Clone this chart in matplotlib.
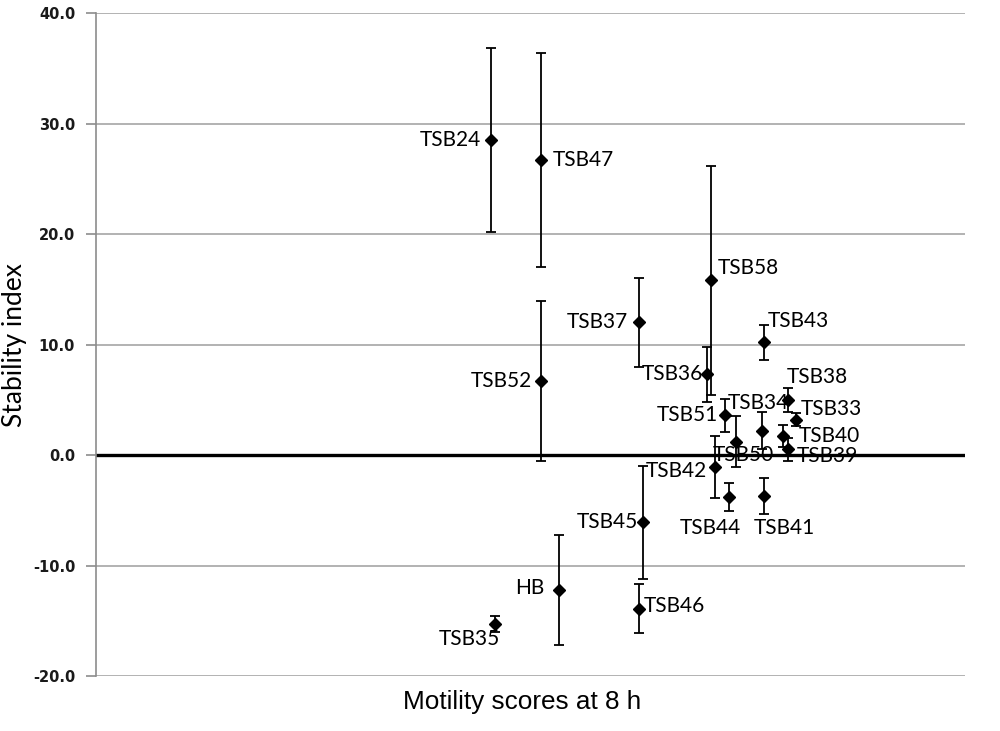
import matplotlib
matplotlib.use("Agg")
import matplotlib.pyplot as plt

# strains, motility score (x, arbitrary scale), stability index and its error
strains = ["TSB24", "TSB47", "TSB58", "TSB37", "TSB52", "TSB36", "TSB51", "TSB50",
           "TSB34", "TSB43", "TSB38", "TSB33", "TSB40", "TSB39", "TSB42", "TSB44",
           "TSB41", "TSB45", "HB", "TSB46", "TSB35"]
motility = [45.4, 51.2, 70.8, 62.5, 51.2, 70.3, 72.4, 73.6,
            76.6, 76.9, 79.6, 80.5, 79.1, 79.6, 71.2, 72.8,
            76.9, 62.9, 53.3, 62.5, 45.9]
stability = [28.5, 26.7, 15.8, 12.0, 6.7, 7.3, 3.6, 1.2,
             2.2, 10.2, 5.0, 3.2, 1.7, 0.5, -1.1, -3.8,
             -3.7, -6.1, -12.2, -13.9, -15.3]
stab_err = [8.3, 9.7, 10.4, 4.0, 7.2, 2.5, 1.5, 2.3,
            1.7, 1.6, 1.1, 0.6, 1.0, 1.0, 2.8, 1.3,
            1.6, 5.1, 5.0, 2.2, 0.7]

yticks = [-20, -10, 0, 10, 20, 30, 40]

# where each data label sits relative to its point (pixels, alignment)
label_pos = {
    "TSB24": (-10, 0, "right", "center"),
    "TSB47": (12, 0, "left", "center"),
    "TSB58": (6, 12, "left", "center"),
    "TSB37": (-11, 0, "right", "center"),
    "TSB52": (-9, 0, "right", "center"),
    "TSB36": (-4, 0, "right", "center"),
    "TSB51": (-7, 0, "right", "center"),
    "TSB50": (8, -13, "center", "center"),
    "TSB34": (-3, 28, "center", "center"),
    "TSB43": (3, 21, "left", "center"),
    "TSB38": (-1, 23, "left", "center"),
    "TSB33": (5, 11, "left", "center"),
    "TSB40": (15, 0, "left", "center"),
    "TSB39": (9, -7, "left", "center"),
    "TSB42": (-8, -4, "right", "center"),
    "TSB44": (-18, -31, "center", "center"),
    "TSB41": (20, -32, "center", "center"),
    "TSB45": (-5, 0, "right", "center"),
    "HB": (-15, 2, "right", "center"),
    "TSB46": (5, 3, "left", "center"),
    "TSB35": (-25, -15, "center", "center"),
}

fig = plt.figure(figsize=(10, 7.31), dpi=100)
ax = fig.add_axes([0.096, 0.0752, 0.869, 0.907])

ax.errorbar(motility, stability, yerr=stab_err, fmt="D", color="black",
            markersize=6.5, ecolor="black", elinewidth=1.3, capsize=3.5,
            capthick=1.3, zorder=3)

for name, x, y in zip(strains, motility, stability):
    dx, dy, ha, va = label_pos[name]
    ax.annotate(name, (x, y), xytext=(dx, dy), textcoords="offset pixels",
                ha=ha, va=va, fontsize=15, family="Lato", color="black",
                zorder=4)

ax.set_xlim(0, 100)
ax.set_ylim(-20, 40)
ax.set_yticks(yticks)
ax.set_yticklabels([f"{v:.1f}" for v in yticks], fontsize=10.5,
                   fontweight="bold", color="#1a1a1a")
ax.set_xticks([])
ax.grid(axis="y", color="#a6a6a6", linewidth=1.2)
ax.set_axisbelow(True)
ax.axhline(0, color="black", linewidth=2.4, zorder=2)

for s in ["top", "right", "bottom"]:
    ax.spines[s].set_visible(False)
ax.spines["left"].set_color("#8c8c8c")
ax.spines["left"].set_linewidth(1.2)
ax.tick_params(axis="y", length=7, color="#8c8c8c", width=1.2, pad=8)

fig.text(0.015, 1 - 345 / 731, "Stability index", rotation=90, ha="center",
         va="center", fontsize=19, family="Lato")
fig.text(0.522, 1 - 702 / 731, "Motility scores at 8 h", ha="center",
         va="center", fontsize=18.8, family="Liberation Sans")

fig.savefig("out.png", dpi=100)
